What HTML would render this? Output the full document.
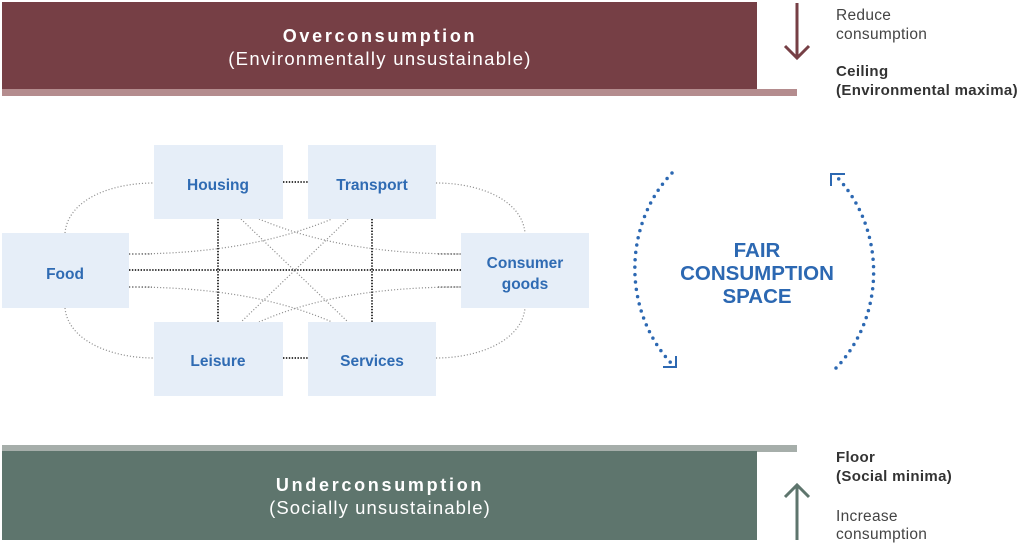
<!DOCTYPE html>
<html><head><meta charset="utf-8"><style>
html,body{margin:0;padding:0;background:#fff;}
svg{display:block;}
</style></head><body>
<svg width="1024" height="548" viewBox="0 0 1024 548" xmlns="http://www.w3.org/2000/svg" font-family="Liberation Sans, Arial, sans-serif">
<rect width="1024" height="548" fill="#fff"/>
<!-- top bar -->
<rect x="2" y="2" width="755" height="88" fill="#763f45"/>
<rect x="2" y="89" width="795" height="7" fill="#b48c8e"/>
<text x="380" y="42" text-anchor="middle" fill="#fff" font-size="18" font-weight="bold" letter-spacing="2.7">Overconsumption</text>
<text x="380" y="65" text-anchor="middle" fill="#fff" font-size="18.5" letter-spacing="1.3">(Environmentally unsustainable)</text>
<!-- bottom bar -->
<rect x="2" y="445" width="795" height="7" fill="#a6aeaa"/>
<rect x="2" y="451" width="755" height="89" fill="#5e756d"/>
<text x="380" y="491" text-anchor="middle" fill="#fff" font-size="18" font-weight="bold" letter-spacing="2.7">Underconsumption</text>
<text x="380" y="514" text-anchor="middle" fill="#fff" font-size="18.5" letter-spacing="1.1">(Socially unsustainable)</text>
<!-- arrows -->
<line x1="797" y1="3" x2="797" y2="57" stroke="#763f45" stroke-width="3"/>
<polyline points="785,46 797,58 809,46" fill="none" stroke="#763f45" stroke-width="3"/>
<line x1="797" y1="486" x2="797" y2="540" stroke="#5e756d" stroke-width="3"/>
<polyline points="785,497 797,485 809,497" fill="none" stroke="#5e756d" stroke-width="3"/>
<!-- side text -->
<g font-size="15.5" fill="#444" letter-spacing="0.3">
<text x="836" y="20">Reduce</text>
<text x="836" y="39">consumption</text>
<text x="836" y="521">Increase</text>
<text x="836" y="539">consumption</text>
</g>
<g font-size="15" fill="#333" font-weight="bold" letter-spacing="0.35">
<text x="836" y="76">Ceiling</text>
<text x="836" y="95">(Environmental maxima)</text>
<text x="836" y="462">Floor</text>
<text x="836" y="481">(Social minima)</text>
</g>
<!-- gray connectors -->
<g fill="none" stroke="#8f8f8f" stroke-width="1.2" stroke-dasharray="1.1 2">
<path d="M65,233 C68,200 110,183 154,183"/>
<path d="M436,183 C480,183 522,200 525,233"/>
<path d="M65,308 C68,340 110,358 154,358"/>
<path d="M436,358 C480,358 522,340 525,308"/>
<path d="M129,254 C230,254 290,236 332,219"/>
<path d="M259,219 C300,236 360,254 461,254"/>
<path d="M129,287 C230,287 290,304 332,322"/>
<path d="M259,322 C300,304 360,287 461,287"/>
<line x1="241" y1="219" x2="348" y2="322"/>
<line x1="348" y1="219" x2="241" y2="322"/>
</g>
<!-- dark connectors -->
<g fill="none" stroke="#222" stroke-width="1.8" stroke-dasharray="1.4 1.5">
<line x1="129" y1="270" x2="461" y2="270"/>
<line x1="218" y1="219" x2="218" y2="322"/>
<line x1="372" y1="219" x2="372" y2="322"/>
<line x1="283" y1="182" x2="308" y2="182"/>
<line x1="283" y1="358" x2="308" y2="358"/>
</g>
<g fill="none" stroke="#555" stroke-width="1.3" stroke-dasharray="1.2 2">
<line x1="129" y1="254" x2="152" y2="254"/>
<line x1="129" y1="287" x2="152" y2="287"/>
<line x1="438" y1="254" x2="461" y2="254"/>
<line x1="438" y1="287" x2="461" y2="287"/>
</g>
<!-- boxes -->
<g fill="#e6eef8">
<rect x="154" y="145" width="129" height="74"/>
<rect x="308" y="145" width="128" height="74"/>
<rect x="2" y="233" width="127" height="75"/>
<rect x="461" y="233" width="128" height="75"/>
<rect x="154" y="322" width="129" height="74"/>
<rect x="308" y="322" width="128" height="74"/>
</g>
<g fill="#2f6bb3" font-size="15.5" font-weight="bold" text-anchor="middle">
<text x="218" y="190">Housing</text>
<text x="372" y="190">Transport</text>
<text x="65" y="279">Food</text>
<text x="525" y="268">Consumer</text>
<text x="525" y="289">goods</text>
<text x="218" y="366">Leisure</text>
<text x="372" y="366">Services</text>
</g>
<!-- fair consumption arcs -->
<g fill="none" stroke="#2c68b2">
<path d="M672,173 A120 132 0 0 0 672,364" stroke-width="3.5" stroke-linecap="round" stroke-dasharray="0 7.4"/>
<path d="M836,368 A120 132 0 0 0 836,176" stroke-width="3.5" stroke-linecap="round" stroke-dasharray="0 7.4"/>
<polyline points="663,367 676,367 676,356" stroke-width="2"/>
<polyline points="845,174 831,174 831,186" stroke-width="2"/>
</g>
<g fill="#2c68b2" font-size="20.5" font-weight="bold" text-anchor="middle">
<text x="757" y="257">FAIR</text>
<text x="757" y="280">CONSUMPTION</text>
<text x="757" y="303">SPACE</text>
</g>
</svg>
</body></html>
